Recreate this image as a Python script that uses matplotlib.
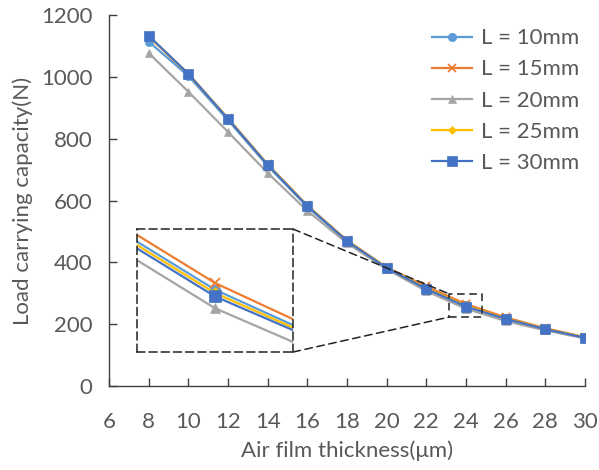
import matplotlib.pyplot as plt
from matplotlib.patches import Rectangle, ConnectionPatch

plt.rcParams['font.family'] = ['Lato', 'DejaVu Sans']

# data
thickness = [8, 10, 12, 14, 16, 18, 20, 22, 24, 26, 28, 30]
load_L10 = [1114, 1003, 860, 712, 580, 468, 381, 318, 261, 219, 185, 157]
load_L15 = [1131, 1009, 866, 717, 584, 471, 384, 322, 265, 222, 187, 158]
load_L20 = [1077, 952, 822, 689, 567, 462, 378, 307, 250, 210, 180, 154]
load_L25 = [1132, 1010, 865, 716, 583, 470, 383, 316, 259, 218, 185, 157]
load_L30 = [1133, 1010, 864, 715, 582, 469, 382, 314, 257, 217, 184, 156]
labels = ["L = 10mm", "L = 15mm", "L = 20mm", "L = 25mm", "L = 30mm"]

series = [load_L10, load_L15, load_L20, load_L25, load_L30]
colors = ["#5B9BD5", "#ED7D31", "#A5A5A5", "#FFC000", "#4472C4"]
markers = ["o", "x", "^", "D", "s"]
msizes = [6, 6, 6, 4.5, 7]

grey = "#595959"
fs = 16

fig = plt.figure(figsize=(5.99, 4.70), dpi=100)
ax = fig.add_axes([0.182, 0.1787, 0.7946, 0.7893])

for y, c, m, ms, lab in zip(series, colors, markers, msizes, labels):
    ax.plot(thickness, y, color=c, marker=m, markersize=ms, lw=1.6,
            markeredgewidth=1.3 if m == "x" else 0.5, label=lab)

ax.set_xlim(6, 30)
ax.set_ylim(0, 1200)
ax.set_xticks(range(6, 31, 2))
ax.set_yticks(range(0, 1201, 200))
for s in ["top", "right"]:
    ax.spines[s].set_visible(False)
for s in ["left", "bottom"]:
    ax.spines[s].set_color("#404040")
    ax.spines[s].set_linewidth(1.0)
ax.tick_params(direction="in", length=6, width=1.0, color="#404040",
               labelsize=fs, labelcolor=grey)
ax.tick_params(axis="y", pad=12)
ax.tick_params(axis="x", pad=19)
ax.set_xlabel("Air film thickness(μm)", fontsize=fs, color=grey, labelpad=6)
ax.set_ylabel("Load carrying capacity(N)", fontsize=fs, color=grey, labelpad=6)

ax.legend(loc="upper right", bbox_to_anchor=(1.015, 1.0), frameon=False,
          fontsize=fs, labelcolor=grey, handlelength=1.8,
          labelspacing=0.5, handletextpad=0.4, borderaxespad=0.2)

# zoom box on main axes
box_x0, box_x1, box_y0, box_y1 = 23.15, 24.8, 223, 298
ax.add_patch(Rectangle((box_x0, box_y0), box_x1 - box_x0, box_y1 - box_y0,
                       fill=False, ls=(0, (5, 3)), lw=1.1, ec="#222222", zorder=5))

# inset
axin = fig.add_axes([0.2287, 0.251, 0.2604, 0.2617])
for y, c, m, ms in zip(series, colors, markers, msizes):
    axin.plot(thickness, y, color=c, marker=m, markersize=ms + 1.5, lw=1.6,
              markeredgewidth=1.3 if m == "x" else 0.5)
axin.set_xlim(23, 25)
axin.set_ylim(224, 297)
axin.set_xticks([])
axin.set_yticks([])
for s in axin.spines.values():
    s.set_linestyle((0, (5, 3)))
    s.set_linewidth(1.1)
    s.set_color("#222222")

for ya, yb in [(1, box_y1), (0, box_y0)]:
    con = ConnectionPatch(xyA=(1, ya), coordsA=axin.transAxes,
                          xyB=(box_x0, yb), coordsB=ax.transData,
                          ls=(0, (5, 3)), lw=1.1, color="#222222")
    fig.add_artist(con)

fig.savefig("out.png", dpi=100)
